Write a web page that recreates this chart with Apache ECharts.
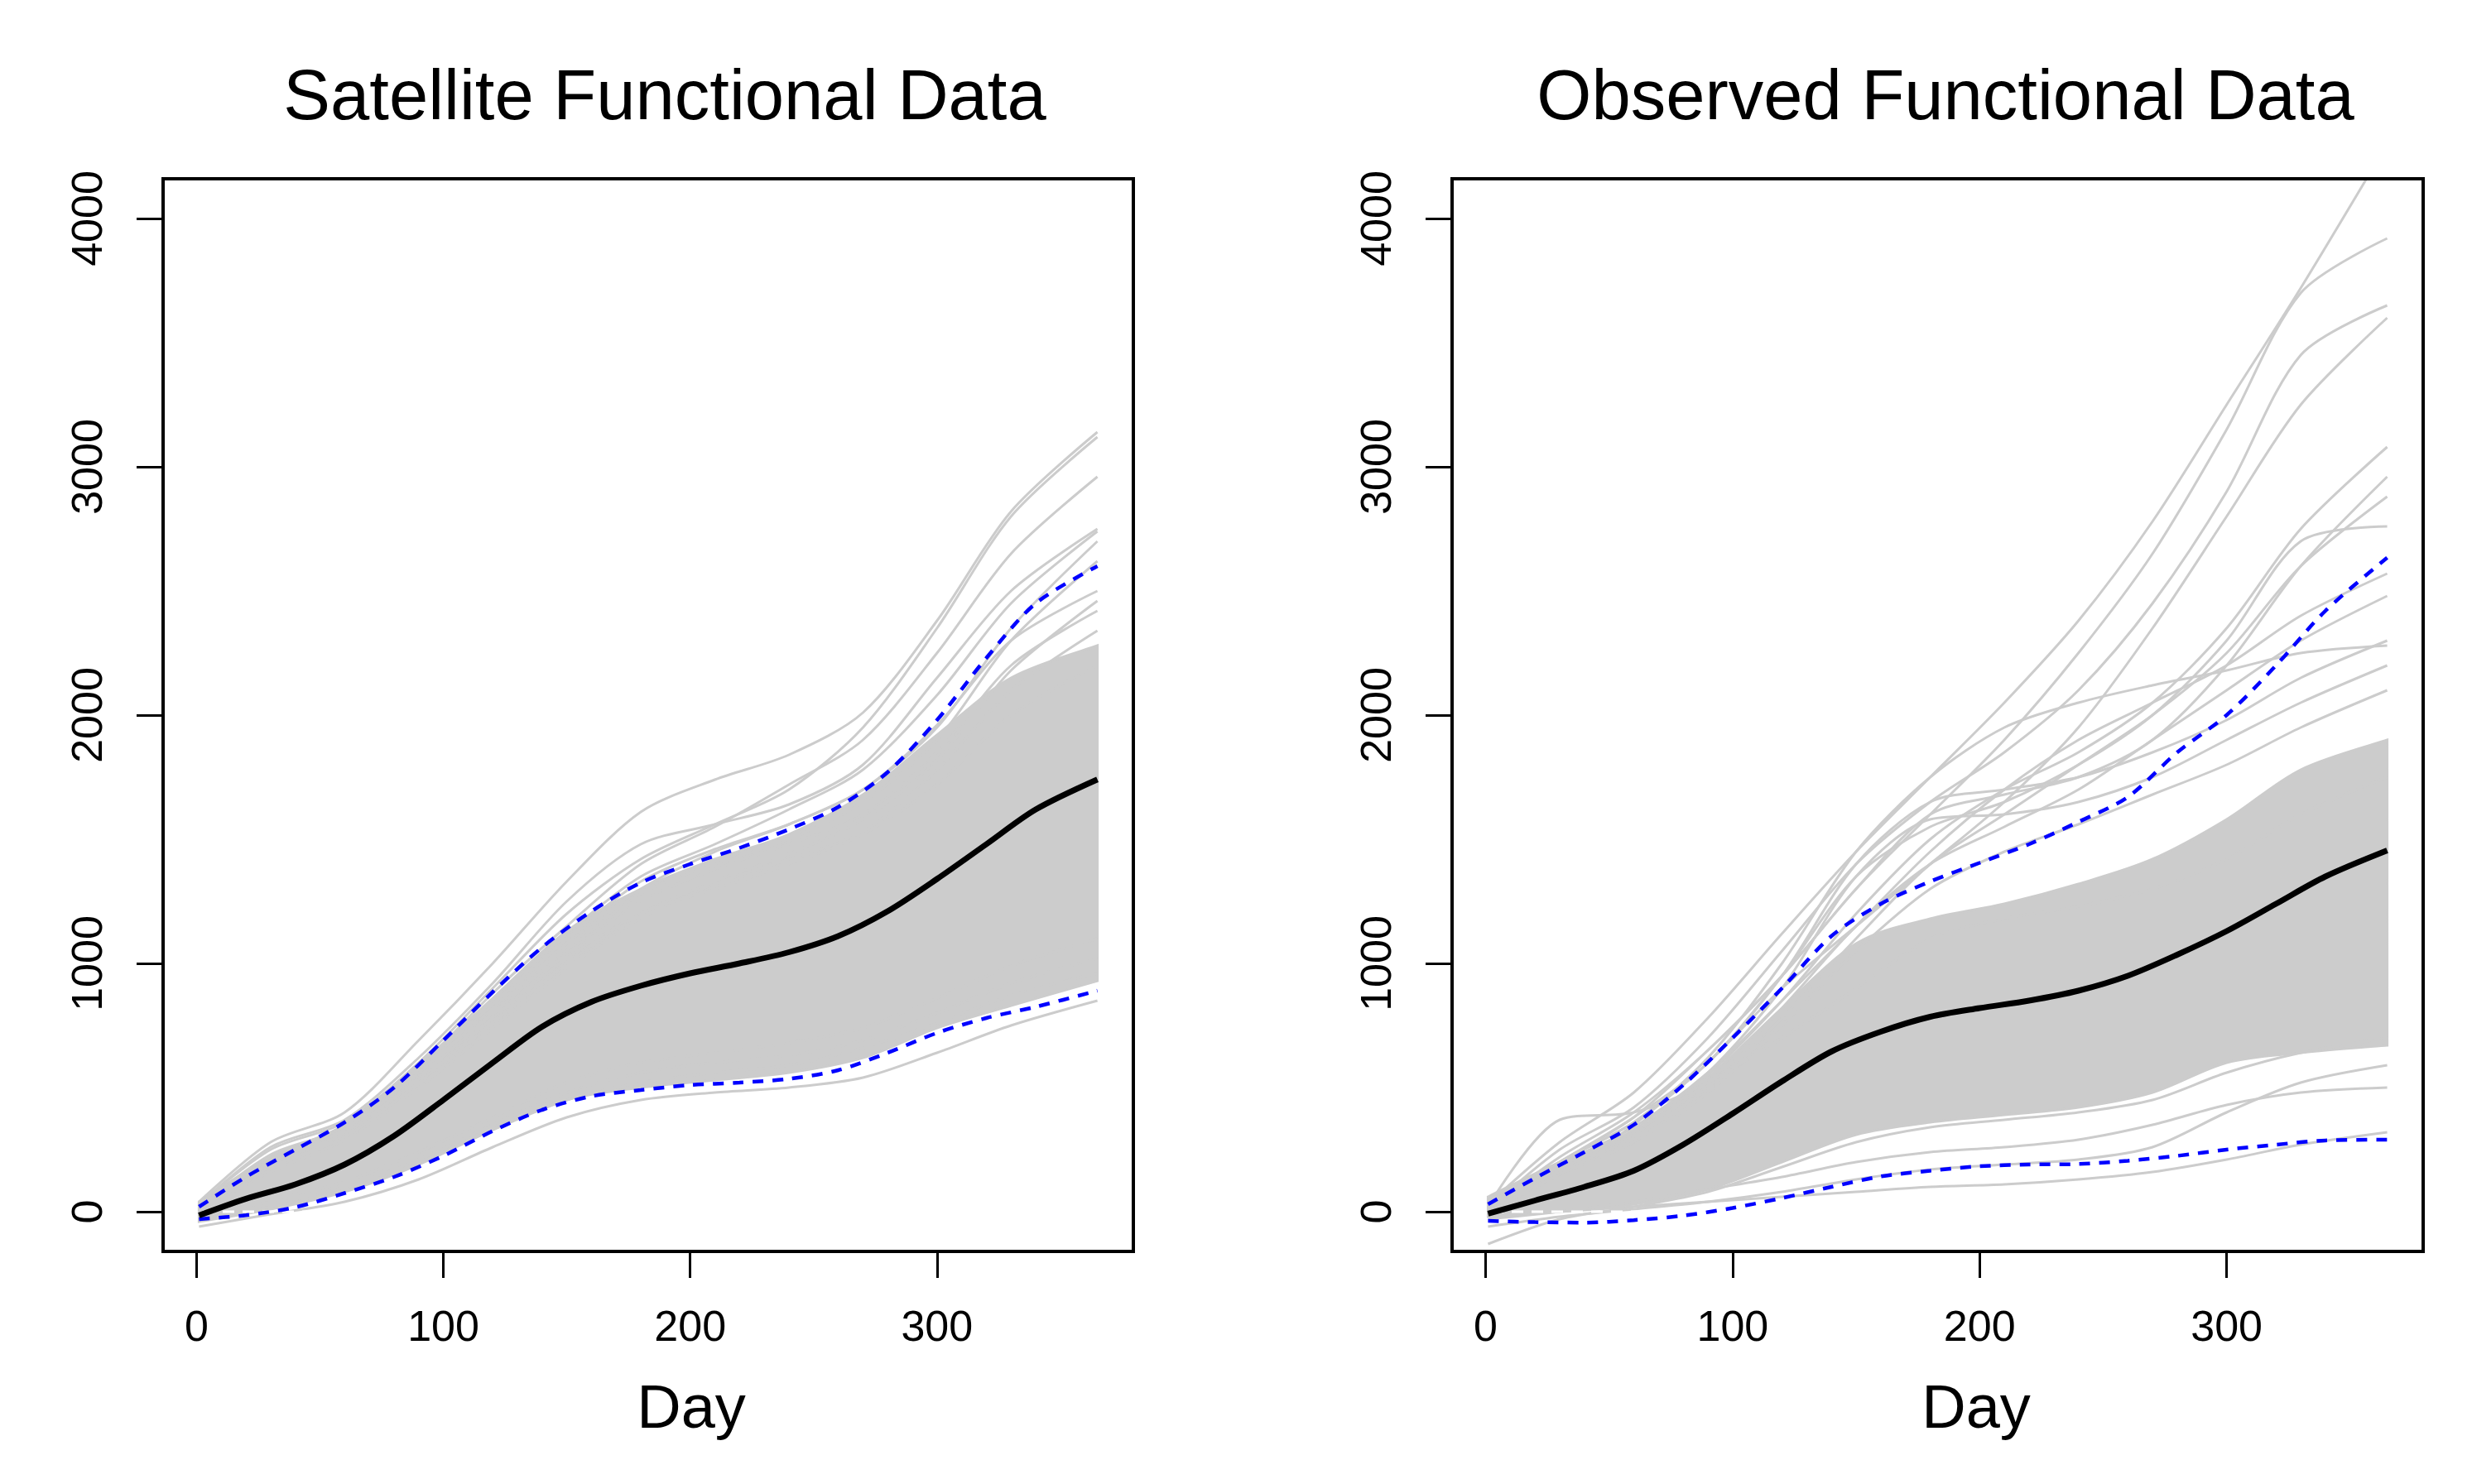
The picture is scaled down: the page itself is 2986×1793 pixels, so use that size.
<!DOCTYPE html>
<html>
<head>
<meta charset="utf-8">
<title>Functional Data</title>
<script src="https://cdn.jsdelivr.net/npm/echarts@6/dist/echarts.min.js"></script>
<style>
  html, body { margin: 0; padding: 0; background: #fff; }
  #chart { width: 2986px; height: 1793px; }
</style>
</head>
<body>
<div id="chart"></div>
<script>
// --- data ---
const days = [1, 20, 40, 60, 80, 100, 120, 140, 160, 180, 200, 220, 240, 260, 280, 300, 320, 340, 365];
const grayDays = [1, 30, 60, 90, 120, 150, 180, 210, 240, 270, 300, 330, 365];
const xTicks = [0, 100, 200, 300];
const yTicks = [0, 1000, 2000, 3000, 4000];

// satellite panel: mean (black) and dashed bounds (blue)
const satMean = [-15, 52, 110, 190, 305, 450, 600, 745, 845, 910, 960, 1000, 1045, 1110, 1210, 1340, 1480, 1620, 1741];
const satUpper = [20, 140, 250, 360, 500, 690, 885, 1065, 1210, 1325, 1400, 1465, 1540, 1630, 1770, 1980, 2230, 2450, 2600];
const satLower = [-30, -14, 18, 75, 140, 225, 325, 410, 465, 490, 510, 520, 535, 570, 640, 720, 780, 825, 890];

// satellite panel: dense grey core (lower / upper edge)
const satBandLow = [-40, 10, 80, 190, 330, 450, 500, 530, 560, 620, 740, 830, 930];
const satBandHigh = [40, 220, 350, 590, 860, 1130, 1300, 1420, 1520, 1680, 1920, 2150, 2280];

// satellite panel: single grey curves outside the core
const satCurves = [
  [40, 280, 400, 690, 1000, 1330, 1610, 1740, 1840, 2010, 2380, 2820, 3140],
  [30, 250, 360, 600, 900, 1200, 1420, 1560, 1700, 1950, 2350, 2800, 3120],
  [20, 230, 340, 580, 880, 1150, 1400, 1550, 1720, 1900, 2250, 2650, 2960],
  [30, 260, 370, 620, 920, 1250, 1480, 1560, 1640, 1800, 2150, 2500, 2750],
  [10, 200, 330, 560, 850, 1120, 1350, 1480, 1620, 1780, 2080, 2450, 2740],
  [20, 220, 340, 560, 820, 1080, 1300, 1450, 1560, 1700, 1950, 2350, 2700],
  [10, 190, 320, 540, 800, 1050, 1280, 1400, 1500, 1650, 1900, 2300, 2620],
  [0, 170, 300, 520, 760, 1000, 1200, 1330, 1440, 1580, 1820, 2180, 2460],
  [20, 210, 330, 530, 780, 1040, 1250, 1380, 1480, 1600, 1850, 2200, 2420],
  [0, 160, 290, 500, 740, 980, 1180, 1320, 1420, 1530, 1780, 2100, 2340],
  [10, 180, 300, 520, 780, 1020, 1200, 1300, 1400, 1520, 1720, 2000, 2200],
  [20, 200, 330, 560, 820, 1100, 1330, 1460, 1560, 1700, 1960, 2300, 2500],
  [-60, -10, 40, 130, 260, 380, 450, 480, 500, 540, 640, 750, 850],
  [-30, 20, 90, 200, 330, 450, 520, 560, 590, 660, 760, 870, 960],
  [-20, 30, 100, 210, 350, 480, 560, 600, 630, 690, 800, 920, 1020],
  [0, 50, 120, 240, 380, 520, 600, 640, 680, 740, 860, 990, 1100]
];

// observed panel
const obsMean = [-8, 45, 100, 165, 270, 395, 525, 645, 725, 785, 820, 850, 890, 950, 1035, 1130, 1240, 1350, 1455];
const obsUpper = [30, 135, 240, 350, 510, 700, 900, 1110, 1240, 1330, 1405, 1480, 1570, 1670, 1850, 2000, 2200, 2420, 2634];
const obsLower = [-37, -42, -44, -34, -16, 15, 55, 100, 142, 165, 183, 190, 192, 205, 225, 250, 270, 287, 290];

const obsBandLow = [-20, 0, 30, 90, 200, 310, 360, 390, 420, 480, 600, 640, 670];
const obsBandHigh = [60, 200, 320, 540, 820, 1080, 1180, 1240, 1320, 1420, 1580, 1780, 1900];

const obsCurves = [
  [30, 280, 480, 780, 1120, 1450, 1750, 2050, 2380, 2780, 3250, 3720, 4300],
  [20, 200, 380, 650, 950, 1300, 1600, 1900, 2250, 2650, 3150, 3700, 3920],
  [10, 250, 420, 700, 1050, 1400, 1650, 1850, 2100, 2450, 2900, 3450, 3650],
  [0, 150, 350, 600, 900, 1150, 1400, 1650, 1950, 2350, 2800, 3250, 3600],
  [20, 180, 320, 550, 850, 1200, 1500, 1700, 1850, 2050, 2350, 2750, 3080],
  [10, 220, 400, 650, 950, 1300, 1600, 1680, 1750, 1900, 2200, 2600, 2960],
  [0, 160, 300, 500, 780, 1100, 1400, 1600, 1800, 2000, 2250, 2600, 2880],
  [20, 200, 380, 600, 950, 1350, 1550, 1650, 1800, 2000, 2300, 2700, 2760],
  [10, 190, 340, 560, 850, 1150, 1450, 1700, 1900, 2050, 2200, 2400, 2570],
  [0, 170, 320, 520, 820, 1150, 1400, 1550, 1700, 1900, 2100, 2300, 2480],
  [10, 200, 360, 600, 950, 1400, 1650, 1700, 1750, 1850, 1980, 2150, 2300],
  [0, 180, 330, 560, 900, 1350, 1580, 1600, 1650, 1750, 1900, 2050, 2200],
  [20, 200, 360, 620, 1000, 1450, 1750, 1950, 2050, 2120, 2180, 2250, 2280],
  [0, 150, 280, 480, 750, 1050, 1300, 1450, 1560, 1680, 1800, 1950, 2100],
  [20, 370, 400, 520, 700, 900, 1100, 1180, 1230, 1300, 1420, 1600, 1750],
  [-20, 0, 20, 40, 60, 80, 100, 110, 130, 160, 210, 270, 320],
  [-60, -20, 10, 40, 80, 130, 170, 190, 210, 260, 400, 520, 590],
  [-30, 0, 40, 90, 140, 200, 240, 260, 290, 350, 430, 480, 500],
  [-130, -30, 20, 80, 180, 280, 340, 370, 400, 450, 560, 640, 700]
];

// --- style constants ---
const GRAY = '#cccccc';
const BLUE = '#0000ff';
const X_MIN = -13.56, X_MAX = 379.56;
const Y_MIN = -160, Y_MAX = 4160;
const FONT = '"Liberation Sans", Arial, Helvetica, sans-serif';

const pairs = (xs, ys) => xs.map((x, i) => [x, ys[i]]);

// cubic segments through already projected points (catmull-rom style)
function curveThrough(pts, k) {
  let d = '';
  for (let i = 0; i < pts.length - 1; i++) {
    const p0 = pts[i - 1] || pts[i];
    const p1 = pts[i];
    const p2 = pts[i + 1];
    const p3 = pts[i + 2] || pts[i + 1];
    const c1 = [p1[0] + (p2[0] - p0[0]) * k, p1[1] + (p2[1] - p0[1]) * k];
    const c2 = [p2[0] - (p3[0] - p1[0]) * k, p2[1] - (p3[1] - p1[1]) * k];
    d += ' C' + c1.join(',') + ' ' + c2.join(',') + ' ' + p2.join(',');
  }
  return d;
}

// grey core drawn as one filled shape between the two edges
function bandSeries(idx, low, high) {
  return {
    type: 'custom',
    xAxisIndex: idx,
    yAxisIndex: idx,
    silent: true,
    z: 1,
    data: grayDays.map((d, i) => [d, low[i], high[i]]),
    encode: { x: 0, y: [1, 2] },
    renderItem: (params, api) => {
      if (params.dataIndex !== 0) return;
      const top = grayDays.map((d, i) => api.coord([d, high[i]]));
      const bottom = grayDays.map((d, i) => api.coord([d, low[i]])).reverse();
      const path = 'M' + top[0].join(',') + curveThrough(top, 0.16) +
        ' L' + bottom[0].join(',') + curveThrough(bottom, 0.16) + ' Z';
      return {
        type: 'path',
        shape: { pathData: path },
        style: { fill: GRAY, stroke: GRAY, lineWidth: 3 }
      };
    }
  };
}

function panelSeries(idx, bandLow, bandHigh, curves, lower, upper, mean) {
  const base = {
    type: 'line',
    xAxisIndex: idx,
    yAxisIndex: idx,
    showSymbol: false,
    silent: true,
    smooth: 0.3
  };
  const list = [bandSeries(idx, bandLow, bandHigh)];

  curves.forEach(c => {
    list.push(Object.assign({}, base, {
      data: pairs(grayDays, c),
      lineStyle: { color: GRAY, width: 3 },
      z: 2
    }));
  });

  // white dashed line at zero
  list.push(Object.assign({}, base, {
    smooth: false,
    data: [[X_MIN, 0], [X_MAX, 0]],
    lineStyle: { color: '#ffffff', width: 3, type: [14, 10] },
    z: 3
  }));

  [lower, upper].forEach(b => {
    list.push(Object.assign({}, base, {
      data: pairs(days, b),
      lineStyle: { color: BLUE, width: 4.5, type: [13, 11] },
      z: 4
    }));
  });

  list.push(Object.assign({}, base, {
    data: pairs(days, mean),
    lineStyle: { color: '#000000', width: 7 },
    z: 5
  }));
  return list;
}

function xAxisFor(idx) {
  return {
    type: 'value',
    gridIndex: idx,
    min: X_MIN,
    max: X_MAX,
    axisLine: { show: false, onZero: false },
    splitLine: { show: false },
    axisTick: {
      show: true,
      inside: false,
      length: 32,
      customValues: xTicks,
      lineStyle: { color: '#000', width: 3 }
    },
    axisLabel: {
      customValues: xTicks,
      formatter: v => String(v),
      color: '#000',
      fontSize: 52,
      fontFamily: FONT,
      margin: 68
    }
  };
}

function yAxisFor(idx) {
  return {
    type: 'value',
    gridIndex: idx,
    min: Y_MIN,
    max: Y_MAX,
    axisLine: { show: false, onZero: false },
    splitLine: { show: false },
    axisTick: {
      show: true,
      inside: false,
      length: 32,
      customValues: yTicks,
      lineStyle: { color: '#000', width: 3 }
    },
    axisLabel: {
      customValues: yTicks,
      formatter: v => String(v),
      rotate: 90,
      color: '#000',
      fontSize: 52,
      fontFamily: FONT,
      margin: 62
    }
  };
}

function label(text, x, y, size) {
  return {
    type: 'text',
    x: x,
    y: y,
    silent: true,
    style: {
      text: text,
      fill: '#000',
      fontSize: size,
      fontFamily: FONT,
      align: 'center',
      verticalAlign: 'middle'
    }
  };
}

const chart = echarts.init(document.getElementById('chart'), null, { renderer: 'canvas' });

const option = {
  backgroundColor: '#ffffff',
  animation: false,
  grid: [
    { left: 197, top: 216, width: 1172, height: 1296, show: true, borderColor: '#000', borderWidth: 4, backgroundColor: 'transparent', z: 10 },
    { left: 1754, top: 216, width: 1173, height: 1296, show: true, borderColor: '#000', borderWidth: 4, backgroundColor: 'transparent', z: 10 }
  ],
  xAxis: [xAxisFor(0), xAxisFor(1)],
  yAxis: [yAxisFor(0), yAxisFor(1)],
  graphic: [
    label('Satellite Functional Data', 803, 121, 85),
    label('Observed Functional Data', 2350, 121, 85),
    label('Day', 835, 1705, 74),
    label('Day', 2387, 1705, 74)
  ],
  series: [].concat(
    panelSeries(0, satBandLow, satBandHigh, satCurves, satLower, satUpper, satMean),
    panelSeries(1, obsBandLow, obsBandHigh, obsCurves, obsLower, obsUpper, obsMean)
  )
};

chart.setOption(option);
</script>
</body>
</html>
